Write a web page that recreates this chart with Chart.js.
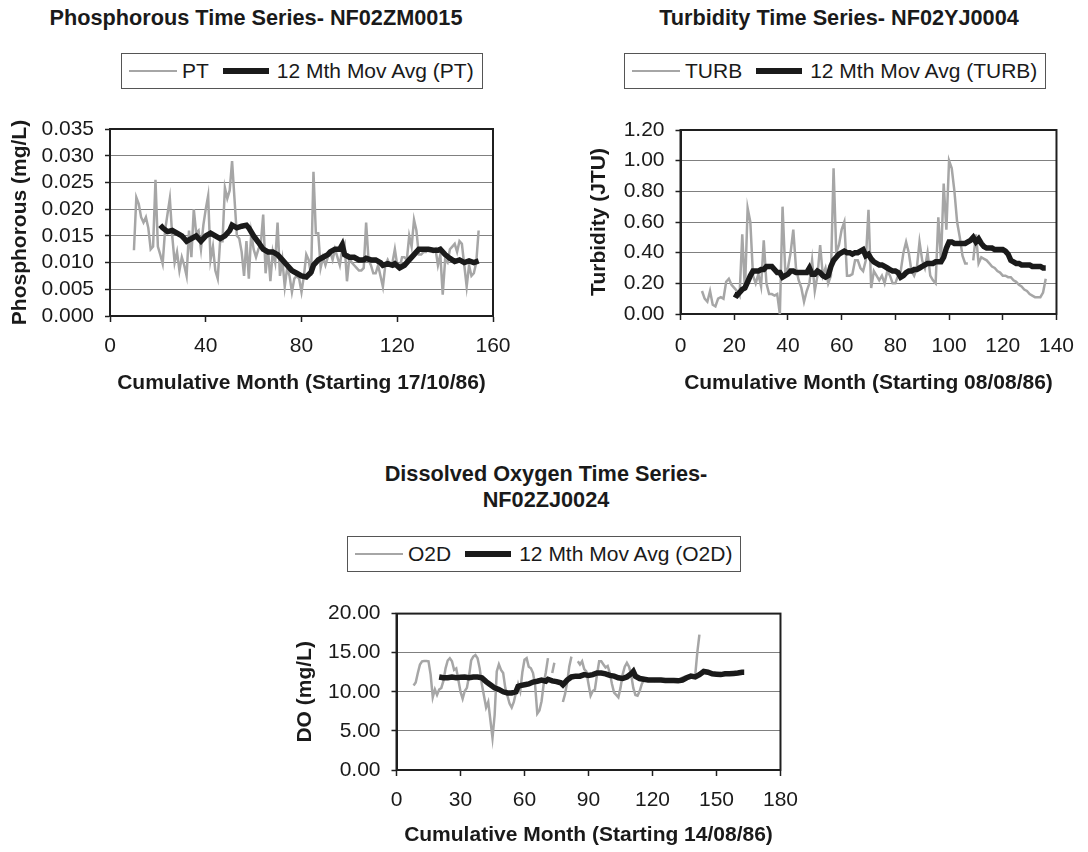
<!DOCTYPE html>
<html>
<head>
<meta charset="utf-8">
<script src="https://cdn.jsdelivr.net/npm/chart.js@4.4.1/dist/chart.umd.min.js"></script>
<style>
  html, body { margin:0; padding:0; background:#fff; }
  body { width:1088px; height:852px; position:relative; overflow:hidden; font-family:"Liberation Sans", Arial, sans-serif; color:#1a1a1a; }
  canvas { position:absolute; }
  .title { position:absolute; font-weight:bold; font-size:21.7px; line-height:26px; text-align:center; white-space:nowrap; transform:translateX(-50%); }
  .legend { position:absolute; height:34px; border:1px solid #555; display:flex; align-items:center; font-size:21px; white-space:nowrap; box-sizing:content-box; padding:0 8px 0 7px; }
  .sw { display:inline-block; }
  .sw.gray { width:48px; height:2.5px; background:#a6a6a6; margin-right:5px; }
  .sw.black { width:46px; height:5.5px; background:#1a1a1a; margin-left:14px; margin-right:8px; }
</style>
</head>
<body>

<div class="title" style="left:256px; top:4.5px;">Phosphorous Time Series- NF02ZM0015</div>
<div class="legend" style="left:121px; top:53px;"><span class="sw gray"></span><span>PT</span><span class="sw black"></span><span>12 Mth Mov Avg (PT)</span></div>
<canvas id="c1" width="540" height="300" style="left:0px; top:100px;"></canvas>

<div class="title" style="left:839px; top:4.5px;">Turbidity Time Series- NF02YJ0004</div>
<div class="legend" style="left:624px; top:53px;"><span class="sw gray"></span><span>TURB</span><span class="sw black"></span><span>12 Mth Mov Avg (TURB)</span></div>
<canvas id="c2" width="528" height="300" style="left:560px; top:100px;"></canvas>

<div class="title" style="left:546px; top:460.5px;">Dissolved Oxygen Time Series-<br>NF02ZJ0024</div>
<div class="legend" style="left:347px; top:536px;"><span class="sw gray"></span><span>O2D</span><span class="sw black"></span><span>12 Mth Mov Avg (O2D)</span></div>
<canvas id="c3" width="530" height="262" style="left:280px; top:590px;"></canvas>

<script>
// ---------- Phosphorous (NF02ZM0015) ----------
const ptMonths = [10,11,12,13,14,15,16,17,18,19,20,21,22,23,24,25,26,27,28,29,30,31,32,33,34,35,36,37,38,39,40,41,42,43,44,45,46,47,48,49,50,51,52,53,54,55,56,57,58,59,60,61,62,63,64,65,66,67,68,69,70,71,72,73,74,75,76,77,78,79,80,81,82,83,84,85,86,87,88,89,90,91,92,93,94,95,96,97,98,99,100,101,102,103,104,105,106,107,108,109,110,111,112,113,114,115,116,117,118,119,120,121,122,123,124,125,126,127,128,129,130,131,132,133,134,135,136,137,138,139,140,141,142,143,144,145,146,147,148,149,150,151,152,153,154];
const ptValues = [0.0123,0.0222,0.0210,0.0185,0.0175,0.0185,0.0165,0.0125,0.0130,0.0255,0.0130,0.0115,0.0098,0.0160,0.0190,0.0220,0.0150,0.0100,0.0120,0.0085,0.0110,0.0095,0.0075,0.0160,0.0110,0.0200,0.0155,0.0160,0.0125,0.0170,0.0200,0.0225,0.0105,0.0130,0.0085,0.0070,0.0140,0.0140,0.0240,0.0220,0.0235,0.0290,0.0220,0.0150,0.0145,0.0120,0.0075,0.0140,0.0070,0.0155,0.0125,0.0110,0.0125,0.0135,0.0190,0.0080,0.0125,0.0065,0.0120,0.0100,0.0175,0.0075,0.0105,0.0055,0.0090,0.0075,0.0045,0.0070,0.0075,0.0070,0.0045,0.0075,0.0115,0.0105,0.0075,0.0270,0.0155,0.0155,0.0090,0.0110,0.0095,0.0110,0.0120,0.0105,0.0125,0.0110,0.0095,0.0125,0.0135,0.0065,0.0110,0.0100,0.0095,0.0090,0.0085,0.0085,0.0090,0.0175,0.0105,0.0095,0.0080,0.0080,0.0095,0.0075,0.0055,0.0095,0.0105,0.0095,0.0100,0.0125,0.0095,0.0090,0.0110,0.0110,0.0105,0.0150,0.0130,0.0180,0.0160,0.0115,0.0115,0.0120,0.0120,0.0125,0.0125,0.0120,0.0125,0.0095,0.0115,0.0040,0.0105,0.0100,0.0125,0.0130,0.0135,0.0120,0.0140,0.0135,0.0095,0.0055,0.0095,0.0075,0.0080,0.0100,0.0160];
const ptAvgMonths = [21,22,24,26,28,30,31,32,34,36,38,40,42,44,46,48,50,51,53,55,57,58,60,62,64,66,68,70,72,74,76,78,80,82,84,85,87,89,91,92,94,96,97,98,100,102,104,106,107,109,111,113,114,116,118,119,121,123,125,127,129,131,133,135,137,138,140,142,144,146,148,150,152,154];
const ptAvgValues = [0.0170,0.0165,0.0158,0.0160,0.0155,0.0150,0.0145,0.0140,0.0145,0.0150,0.0140,0.0150,0.0155,0.0150,0.0145,0.0150,0.0160,0.0170,0.0165,0.0168,0.0170,0.0165,0.0150,0.0138,0.0125,0.0120,0.0120,0.0115,0.0105,0.0095,0.0085,0.0080,0.0075,0.0073,0.0082,0.0095,0.0105,0.0110,0.0115,0.0120,0.0125,0.0125,0.0133,0.0115,0.0110,0.0110,0.0105,0.0105,0.0108,0.0105,0.0105,0.0100,0.0095,0.0098,0.0095,0.0098,0.0090,0.0095,0.0105,0.0115,0.0125,0.0125,0.0125,0.0123,0.0123,0.0125,0.0115,0.0108,0.0102,0.0105,0.0100,0.0103,0.0100,0.0103];
const ptXTicks = [0,40,80,120,160];
const ptYTicks = [0,0.005,0.010,0.015,0.020,0.025,0.030,0.035];

// ---------- Turbidity (NF02YJ0004) ----------
const turbMonths = [8,9,10,11,12,13,14,15,16,17,18,19,20,21,22,23,24,25,26,27,28,29,30,31,32,33,34,35,36,37,38,39,40,41,42,43,44,45,46,47,48,49,50,51,52,53,54,55,56,57,58,59,60,61,62,63,64,65,66,67,68,69,70,71,72,73,74,75,76,77,78,79,80,81,82,83,84,85,86,87,88,89,90,91,92,93,94,95,96,97,98,99,100,101,102,103,104,105,106,107,108,109,110,111,112,113,114,115,116,117,118,119,120,121,122,123,124,125,126,127,128,129,130,131,132,133,134,135,136];
const turbValues = [0.15,0.10,0.08,0.15,0.06,0.05,0.10,0.11,0.10,0.21,0.23,0.19,0.17,0.15,0.12,0.52,0.15,0.69,0.60,0.25,0.20,0.26,0.18,0.48,0.20,0.13,0.13,0.12,0.13,0.00,0.70,0.28,0.30,0.40,0.55,0.30,0.22,0.17,0.08,0.15,0.20,0.35,0.15,0.25,0.45,0.25,0.30,0.20,0.25,0.95,0.40,0.45,0.55,0.60,0.25,0.25,0.26,0.35,0.35,0.30,0.28,0.35,0.68,0.17,0.28,0.25,0.22,0.25,0.20,0.28,0.25,0.20,0.20,0.25,0.28,0.40,0.47,0.40,0.28,0.25,0.30,0.47,0.35,0.30,0.40,0.25,0.22,0.20,0.63,0.35,0.85,0.55,1.00,0.95,0.80,0.60,0.50,0.38,0.33,0.33,null,0.35,0.52,0.33,0.37,0.36,0.35,0.33,0.31,0.30,0.28,0.27,0.25,0.25,0.24,0.24,0.22,0.21,0.19,0.18,0.16,0.15,0.13,0.12,0.11,0.11,0.11,0.14,0.23];
const turbAvgMonths = [20,21,22,23,24,25,26,27,28,29,30,31,32,33,34,35,36,37,38,39,40,41,42,43,44,45,46,47,48,49,50,51,52,53,54,55,56,57,58,59,60,61,62,63,64,65,66,67,68,69,70,71,72,73,74,75,76,77,78,79,80,81,82,83,84,85,86,87,88,89,90,91,92,93,94,95,96,97,98,99,100,101,102,103,104,105,106,107,108,109,110,111,112,113,114,115,116,117,118,119,120,121,122,123,124,125,126,127,128,129,130,131,132,133,134,135,136];
const turbAvgValues = [0.13,0.12,0.14,0.16,0.17,0.21,0.25,0.28,0.28,0.28,0.29,0.29,0.31,0.31,0.31,0.29,0.27,0.27,0.24,0.25,0.26,0.28,0.28,0.27,0.27,0.27,0.27,0.27,0.30,0.26,0.26,0.28,0.27,0.25,0.24,0.25,0.31,0.35,0.37,0.39,0.40,0.41,0.40,0.40,0.39,0.40,0.40,0.41,0.42,0.38,0.39,0.36,0.34,0.33,0.32,0.32,0.31,0.30,0.29,0.28,0.28,0.27,0.24,0.25,0.27,0.28,0.28,0.29,0.29,0.30,0.31,0.32,0.33,0.33,0.33,0.34,0.34,0.34,0.37,0.43,0.47,0.47,0.46,0.46,0.46,0.46,0.46,0.47,0.48,0.50,0.47,0.49,0.46,0.44,0.43,0.43,0.43,0.42,0.42,0.42,0.42,0.41,0.39,0.35,0.34,0.33,0.33,0.32,0.32,0.32,0.32,0.31,0.31,0.31,0.31,0.30,0.30];
const turbXTicks = [0,20,40,60,80,100,120,140];
const turbYTicks = [0,0.2,0.4,0.6,0.8,1.0,1.2];

// ---------- Dissolved Oxygen (NF02ZJ0024) ----------
const doMonths = [8,9,10,11,12,13,14,15,16,17,18,19,20,21,22,23,24,25,26,27,28,29,30,31,32,33,34,35,36,37,38,39,40,41,42,43,44,45,46,47,48,49,50,51,52,53,54,55,56,57,58,59,60,61,62,63,64,65,66,67,68,69,70,71,72,73,74,75,76,77,78,79,80,81,82,83,84,85,86,87,88,89,90,91,92,93,94,95,96,97,98,99,100,101,102,103,104,105,106,107,108,109,110,111,112,113,114,115,116,117,118,119,120,121,122,123,124,125,126,127,128,129,130,131,132,133,134,135,136,137,138,139,140,141,142,143,144,145];
const doValues = [10.8,11.2,12.4,13.5,13.9,13.95,13.95,13.9,12.2,9.3,10.3,9.6,10.3,10.5,11.4,13.0,14.0,14.3,13.9,12.8,13.0,11.5,10.0,9.1,10.1,10.5,12.0,14.0,14.5,14.7,14.3,13.0,11.0,9.5,8.0,8.7,6.4,4.1,7.0,12.6,13.5,12.8,12.4,10.5,9.5,8.5,8.0,8.7,9.9,11.0,10.1,12.5,14.1,14.3,13.2,13.0,12.4,10.8,7.2,7.6,8.8,11.0,12.5,14.3,null,12.4,13.7,null,null,null,8.7,9.7,11.2,13.25,14.5,null,null,13.9,13.5,13.9,12.9,12.6,11.0,9.5,10.1,10.3,12.2,13.9,13.9,13.5,13.1,13.3,12.4,11.0,9.9,9.6,9.3,10.5,12.2,13.2,13.7,13.2,12.2,10.5,9.6,9.5,10.1,11.0,11.5,11.6,11.5,11.6,11.5,11.4,11.5,11.5,11.4,11.5,11.4,11.4,11.5,11.4,11.4,11.5,11.4,11.6,11.8,11.9,11.8,11.9,12.0,11.9,12.0,15.0,17.3];
const doAvgMonths = [20,22,24,26,28,30,32,34,36,38,40,42,44,46,48,50,52,54,56,57,58,60,62,64,66,68,70,71,73,75,77,78,80,82,84,86,88,90,92,94,96,98,100,102,104,106,108,110,111,112,114,116,118,120,122,124,126,128,130,132,134,136,138,140,142,144,146,148,150,152,154,156,158,160,162,163];
const doAvgValues = [11.9,11.8,11.8,11.9,11.8,11.85,11.9,11.8,11.9,11.9,11.8,11.3,10.9,10.5,10.3,10.0,9.85,9.85,10.0,10.7,10.8,10.9,11.0,11.25,11.35,11.5,11.35,11.6,11.4,11.3,11.15,10.9,11.5,11.9,12.0,12.0,12.2,12.1,12.2,12.4,12.4,12.3,12.1,12.0,11.8,11.7,11.9,12.3,12.6,12.0,11.7,11.6,11.5,11.5,11.5,11.5,11.45,11.45,11.45,11.4,11.5,11.8,12.0,11.9,12.2,12.6,12.5,12.3,12.25,12.2,12.3,12.3,12.35,12.4,12.5,12.5];
const doXTicks = [0,30,60,90,120,150,180];
const doYTicks = [0,5,10,15,20];

// ---------- rendering ----------
const TXT = '#1a1a1a';
const FONT = 'Liberation Sans';
const toXY = (xs, ys) => xs.map((x, i) => ({ x: x, y: ys[i] }));

const plotBorder = {
  id: 'plotBorder',
  beforeDatasetsDraw(chart) {
    const a = chart.chartArea, ctx = chart.ctx;
    ctx.save();
    ctx.strokeStyle = '#1f1f1f';
    ctx.lineWidth = 2;
    ctx.strokeRect(a.left, a.top, a.right - a.left, a.bottom - a.top);
    ctx.restore();
  }
};

function build(id, o) {
  new Chart(document.getElementById(id), {
    type: 'line',
    data: {
      datasets: [
        { label: o.rawLabel, data: toXY(o.rawX, o.rawY), borderColor: '#a6a6a6', borderWidth: 2.5, pointRadius: 0, spanGaps: false, clip: 4, order: 2 },
        { label: o.avgLabel, data: toXY(o.avgX, o.avgY), borderColor: '#1a1a1a', borderWidth: 5.5, pointRadius: 0, borderJoinStyle: 'miter', clip: 4, order: 1 }
      ]
    },
    plugins: [plotBorder],
    options: {
      responsive: false,
      animation: false,
      events: [],
      layout: { padding: { top: o.padTop, right: o.padRight, left: 0, bottom: 0 } },
      plugins: { legend: { display: false }, title: { display: false }, tooltip: { enabled: false } },
      elements: { line: { tension: 0 } },
      scales: {
        x: {
          type: 'linear',
          min: o.xTicks[0], max: o.xTicks[o.xTicks.length - 1],
          afterBuildTicks: s => { s.ticks = o.xTicks.map(v => ({ value: v })); },
          afterFit: s => { s.height = o.xH; },
          ticks: { color: TXT, font: { family: FONT, size: 21 }, padding: o.xTickPad, maxRotation: 0, autoSkip: false, callback: v => String(v) },
          grid: { drawOnChartArea: false, drawTicks: true, tickLength: 6, tickColor: '#1f1f1f', tickWidth: 1.5 },
          border: { display: true, color: '#1f1f1f', width: 2 },
          title: { display: true, text: o.xTitle, color: TXT, font: { family: FONT, size: 21, weight: 'bold' }, padding: { top: 0, bottom: 4.4 } }
        },
        y: {
          min: o.yTicks[0], max: o.yTicks[o.yTicks.length - 1],
          afterBuildTicks: s => { s.ticks = o.yTicks.map(v => ({ value: v })); },
          afterFit: s => { s.width = o.yW; },
          ticks: { color: TXT, font: { family: FONT, size: 21 }, padding: 11, autoSkip: false, callback: v => Number(v).toFixed(o.dec) },
          grid: { color: '#808080', lineWidth: 1, drawTicks: true, tickLength: 5, tickColor: '#1f1f1f', tickWidth: 1.5 },
          border: { display: true, color: '#1f1f1f', width: 2 },
          title: { display: true, text: o.yTitle, color: TXT, font: { family: FONT, size: 21, weight: 'bold' }, padding: { top: o.yTitlePad, bottom: 0 } }
        }
      }
    }
  });
}

build('c1', {
  rawLabel: 'PT', avgLabel: '12 Mth Mov Avg (PT)',
  rawX: ptMonths, rawY: ptValues, avgX: ptAvgMonths, avgY: ptAvgValues,
  xTicks: ptXTicks, yTicks: ptYTicks, dec: 3,
  xTitle: 'Cumulative Month (Starting 17/10/86)', yTitle: 'Phosphorous (mg/L)',
  padTop: 29, padRight: 47, yW: 110, xH: 84, xTickPad: 12, yTitlePad: 7.4
});
build('c2', {
  rawLabel: 'TURB', avgLabel: '12 Mth Mov Avg (TURB)',
  rawX: turbMonths, rawY: turbValues, avgX: turbAvgMonths, avgY: turbAvgValues,
  xTicks: turbXTicks, yTicks: turbYTicks, dec: 2,
  xTitle: 'Cumulative Month (Starting 08/08/86)', yTitle: 'Turbidity (JTU)',
  padTop: 30, padRight: 16.5, yW: 120.5, xH: 86, xTickPad: 14, yTitlePad: 26.4
});
build('c3', {
  rawLabel: 'O2D', avgLabel: '12 Mth Mov Avg (O2D)',
  rawX: doMonths, rawY: doValues, avgX: doAvgMonths, avgY: doAvgValues,
  xTicks: doXTicks, yTicks: doYTicks, dec: 2,
  xTitle: 'Cumulative Month (Starting 14/08/86)', yTitle: 'DO (mg/L)',
  padTop: 20, padRight: 28, yW: 116.5, xH: 82, xTickPad: 12, yTitlePad: 12.4
});
</script>
</body>
</html>
